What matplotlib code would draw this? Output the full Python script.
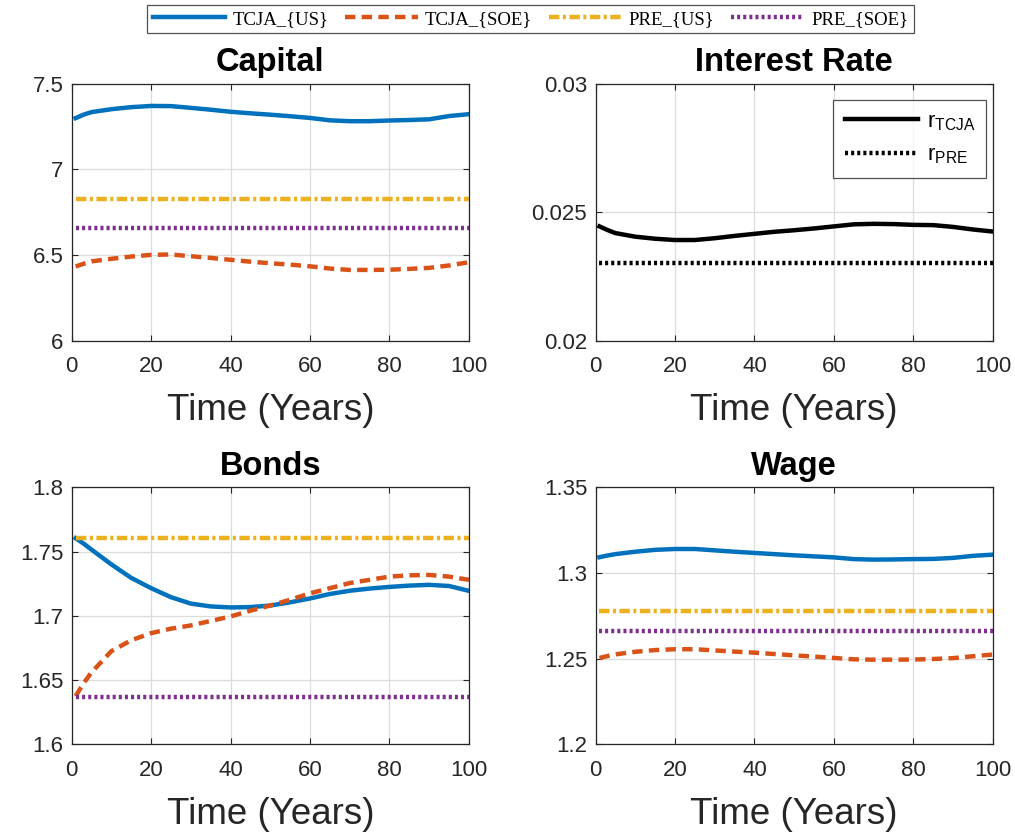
import matplotlib
matplotlib.use('Agg')
import matplotlib.pyplot as plt
from matplotlib.ticker import FuncFormatter

years = [1, 3, 5, 10, 15, 20, 25, 30, 35, 40, 45, 50, 55, 60, 65, 70, 75, 80, 85, 90, 95, 100]

capital_us = [7.298, 7.318, 7.333, 7.350, 7.362, 7.369, 7.368, 7.358, 7.347, 7.335, 7.326,
              7.318, 7.309, 7.299, 7.285, 7.280, 7.280, 7.284, 7.287, 7.291, 7.310, 7.321]
capital_soe = [6.432, 6.448, 6.462, 6.477, 6.490, 6.500, 6.502, 6.492, 6.482, 6.471, 6.460,
               6.451, 6.443, 6.433, 6.420, 6.412, 6.412, 6.413, 6.418, 6.424, 6.438, 6.457]
capital_pre_us = 6.825
capital_pre_soe = 6.654

rate_tcja = [0.02444, 0.02430, 0.02418, 0.02404, 0.02396, 0.02391, 0.02391, 0.02398, 0.02407,
             0.02415, 0.02423, 0.02429, 0.02436, 0.02444, 0.02452, 0.02454, 0.02453, 0.02450,
             0.02449, 0.02442, 0.02432, 0.02424]
rate_pre = 0.0230

bonds_us = [1.7604, 1.7562, 1.7515, 1.7400, 1.7295, 1.7215, 1.7145, 1.7095, 1.7073, 1.7065,
            1.7068, 1.7080, 1.7105, 1.7135, 1.7170, 1.7195, 1.7212, 1.7225, 1.7235, 1.7241,
            1.7232, 1.7194]
bonds_soe = [1.6375, 1.6475, 1.6560, 1.6725, 1.6810, 1.6865, 1.6900, 1.6925, 1.6960, 1.6995,
             1.7040, 1.7080, 1.7125, 1.7175, 1.7215, 1.7255, 1.7280, 1.7305, 1.7315, 1.7318,
             1.7305, 1.7280]
bonds_pre_us = 1.7609
bonds_pre_soe = 1.6366

wage_us = [1.3092, 1.3102, 1.3110, 1.3124, 1.3135, 1.3140, 1.3140, 1.3132, 1.3124, 1.3117,
           1.3110, 1.3103, 1.3097, 1.3091, 1.3081, 1.3078, 1.3079, 1.3081, 1.3082, 1.3088,
           1.3100, 1.3107]
wage_soe = [1.2504, 1.2515, 1.2525, 1.2540, 1.2550, 1.2555, 1.2555, 1.2548, 1.2541, 1.2535,
            1.2527, 1.2519, 1.2512, 1.2504, 1.2496, 1.2494, 1.2494, 1.2495, 1.2498, 1.2503,
            1.2514, 1.2524]
wage_pre_us = 1.2776
wage_pre_soe = 1.2661

legend_labels = ['TCJA_{US}', 'TCJA_{SOE}', 'PRE_{US}', 'PRE_{SOE}']

BLUE, ORANGE, YELLOW, PURPLE = '#0072BD', '#D95319', '#EDB120', '#7E2F8E'
LW = 3.2
plt.rcParams['font.family'] = ['Liberation Sans', 'DejaVu Sans']
plt.rcParams['lines.scale_dashes'] = False
DASH = (0, (7.5, 4.5))
DASHDOT = (0, (7.5, 2.5, 2.2, 2.5))
DOT = (0, (2.2, 2.2))

fig = plt.figure(figsize=(10.15, 8.35), dpi=100, facecolor='white')
col_left = [0.0706, 0.5867]
row_bot = [0.5922, 0.1086]
W, H = 0.3914, 0.3078


def style(ax, ylim, yticks, title):
    ax.set_xlim(0, 100)
    ax.set_ylim(*ylim)
    ax.set_xticks(range(0, 101, 20))
    ax.set_yticks(yticks)
    ax.yaxis.set_major_formatter(FuncFormatter(lambda v, p: '%g' % round(v, 4)))
    ax.grid(True, color='#dcdcdc', lw=0.9)
    ax.set_axisbelow(True)
    ax.tick_params(direction='in', top=True, right=True, length=4, width=0.8,
                   labelsize=16, colors='#262626', pad=6)
    ax.tick_params(axis='x', pad=11)
    for s in ax.spines.values():
        s.set_color('#262626')
        s.set_linewidth(0.9)
    ax.set_title(title, fontsize=23.5, fontweight='bold', pad=9)
    ax.set_xlabel('Time (Years)', fontsize=26.5, color='#262626', labelpad=12)


def four(ax, us, soe, pre_us, pre_soe):
    h1, = ax.plot(years, us, color=BLUE, lw=LW)
    h2, = ax.plot(years, soe, color=ORANGE, lw=LW, linestyle=DASH)
    h3, = ax.plot([1, 100], [pre_us, pre_us], color=YELLOW, lw=LW, linestyle=DASHDOT)
    h4, = ax.plot([1, 100], [pre_soe, pre_soe], color=PURPLE, lw=LW, linestyle=DOT)
    return [h1, h2, h3, h4]


ax1 = fig.add_axes([col_left[0], row_bot[0], W, H])
handles = four(ax1, capital_us, capital_soe, capital_pre_us, capital_pre_soe)
style(ax1, (6, 7.5), [6, 6.5, 7, 7.5], 'Capital')

ax2 = fig.add_axes([col_left[1], row_bot[0], W, H])
ax2.plot(years, rate_tcja, color='black', lw=LW, label=r'r$_{\mathregular{TCJA}}$')
ax2.plot([1, 100], [rate_pre, rate_pre], color='black', lw=LW, linestyle=DOT,
         label=r'r$_{\mathregular{PRE}}$')
style(ax2, (0.02, 0.03), [0.02, 0.025, 0.03], 'Interest Rate')
lg2 = ax2.legend(loc='upper right', fontsize=16, frameon=True, fancybox=False,
                 edgecolor='#262626', handlelength=3.3, handletextpad=0.4,
                 borderpad=0.5, labelspacing=0.55, borderaxespad=0,
                 bbox_to_anchor=(0.984, 0.936))
lg2.get_frame().set_linewidth(0.9)

ax3 = fig.add_axes([col_left[0], row_bot[1], W, H])
four(ax3, bonds_us, bonds_soe, bonds_pre_us, bonds_pre_soe)
style(ax3, (1.6, 1.8), [1.6, 1.65, 1.7, 1.75, 1.8], 'Bonds')

ax4 = fig.add_axes([col_left[1], row_bot[1], W, H])
four(ax4, wage_us, wage_soe, wage_pre_us, wage_pre_soe)
style(ax4, (1.2, 1.35), [1.2, 1.25, 1.3, 1.35], 'Wage')

lg = fig.legend(handles, legend_labels, loc='center', bbox_to_anchor=(0.5227, 0.977),
                ncol=4, frameon=True, fancybox=False, edgecolor='#262626',
                prop={'family': 'Liberation Serif', 'size': 13.5},
                handlelength=3.85, columnspacing=0.9, handletextpad=0.4, borderpad=0.3)
lg.get_frame().set_linewidth(0.9)

fig.savefig('out.png', dpi=100, facecolor='white')
